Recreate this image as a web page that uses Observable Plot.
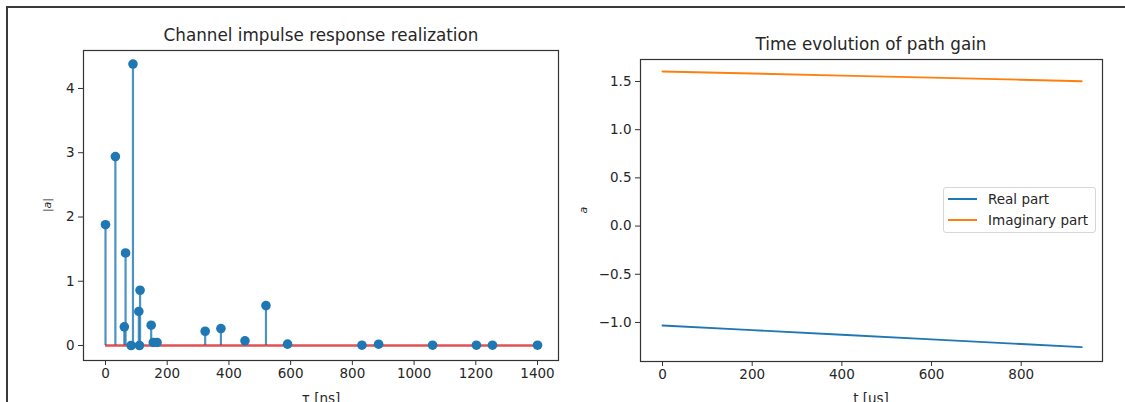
<!DOCTYPE html>
<html>
<head>
<meta charset="utf-8">
<script src="https://cdn.jsdelivr.net/npm/d3@7"></script>
<script src="https://cdn.jsdelivr.net/npm/@observablehq/plot@0.6"></script>
<style>
  html, body { margin: 0; padding: 0; background: #fff; }
  #wrap { position: relative; width: 1125px; height: 402px; overflow: hidden; background: #fff;
          font-family: "DejaVu Sans", sans-serif; color: #262626; }
  .frame { position: absolute; left: 6px; top: 6px; width: 1130px; height: 410px;
           border-top: 2px solid #3a3a3a; border-left: 2px solid #3a3a3a; }
  .plot { position: absolute; top: 0; }
  .title { position: absolute; font-size: 16.8px; transform: translate(-50%, -50%); white-space: nowrap; }
  .xlabel { position: absolute; font-size: 13.5px; transform: translateX(-50%); white-space: nowrap; }
  .ylabel { position: absolute; font-size: 11px; transform: translate(-50%, -50%) rotate(-90deg); white-space: nowrap; }
  .legend { position: absolute; left: 943px; top: 187px; width: 153px; height: 46px;
            border: 1px solid #d6d6d6; border-radius: 3px; background: rgba(255,255,255,0.8); box-sizing: border-box; }
  .lg-row { position: absolute; left: 4px; height: 16px; font-size: 13.5px; display: flex; align-items: center; }
  .lg-sw { width: 29px; height: 2px; margin-right: 11px; }
</style>
</head>
<body>
<div id="wrap">
  <div class="frame"></div>
  <div id="left" class="plot" style="left:0px"></div>
  <div id="right" class="plot" style="left:562px"></div>
  <div class="title" style="left:321px; top:35px">Channel impulse response realization</div>
  <div class="title" style="left:871px; top:44px">Time evolution of path gain</div>
  <div class="xlabel" style="left:321px; top:390px">τ [ns]</div>
  <div class="xlabel" style="left:871px; top:390px">t [us]</div>
  <div class="ylabel" style="left:47px; top:205px">|<i>a</i>|</div>
  <div class="ylabel" style="left:583px; top:210px"><i>a</i></div>
  <div class="legend">
    <div class="lg-row" style="top:3px"><div class="lg-sw" style="background:#1f77b4"></div>Real part</div>
    <div class="lg-row" style="top:24px"><div class="lg-sw" style="background:#ff7f0e"></div>Imaginary part</div>
  </div>
</div>
<script>
// ---- Left panel data: channel impulse response ----
const tau = [0, 32, 61, 65, 83, 89, 108, 110, 112, 148, 155, 167, 323, 374, 452, 520, 590, 831, 885, 1060, 1202, 1254, 1400];
const mag = [1.88, 2.94, 0.29, 1.44, 0.0, 4.38, 0.53, 0.0, 0.86, 0.316, 0.047, 0.047, 0.222, 0.264, 0.072, 0.621, 0.021, 0.005, 0.02, 0.005, 0.005, 0.005, 0.005];
const xTicksLeft = [0, 200, 400, 600, 800, 1000, 1200, 1400];
const yTicksLeft = [0, 1, 2, 3, 4];

// ---- Right panel data: time evolution of path gain ----
const tUs = [0, 200, 400, 600, 800, 935];
const realPart = [-1.031, -1.079, -1.128, -1.176, -1.224, -1.256];
const imagPart = [1.604, 1.583, 1.561, 1.540, 1.518, 1.503];
const xTicksRight = [0, 200, 400, 600, 800];
const yTicksRight = [-1.0, -0.5, 0.0, 0.5, 1.0, 1.5];

const C0 = "#1f77b4", C1 = "#ff7f0e", C3 = "#d62728";
const axisStyle = {fontFamily: "DejaVu Sans, sans-serif", fontSize: "13.5px", color: "#262626", background: "transparent", overflow: "visible"};

const stems = tau.map((t, i) => ({tau: t, mag: mag[i]}));
const fmtMinus = d => (d < 0 ? "\u2212" : "") + Math.abs(d).toFixed(1);

const left = Plot.plot({
  width: 562, height: 402,
  marginLeft: 83, marginRight: 4, marginTop: 50, marginBottom: 42,
  style: axisStyle,
  x: {domain: [-71.3, 1468], label: null},
  y: {domain: [-0.2335, 4.591], label: null},
  marks: [
    Plot.axisX({ticks: xTicksLeft, tickSize: 5, tickPadding: 3, tickFormat: d => String(d), label: null, stroke: "#333"}),
    Plot.axisY({ticks: yTicksLeft, tickSize: 5, tickPadding: 4, tickFormat: d => String(d), label: null, stroke: "#333"}),
    Plot.ruleX(stems, {x: "tau", y1: 0, y2: "mag", stroke: C0, strokeWidth: 2.2, strokeOpacity: 0.8}),
    Plot.ruleY([0], {x1: d3.min(tau), x2: d3.max(tau), stroke: C3, strokeWidth: 2.4, strokeOpacity: 0.8}),
    Plot.dot(stems, {x: "tau", y: "mag", r: 4.8, fill: C0, stroke: "none"}),
    Plot.frame({stroke: "#333", strokeWidth: 1.2})
  ]
});
document.getElementById("left").append(left);

const series = [
  ...tUs.map((t, i) => ({t, v: realPart[i], s: "Real part"})),
  ...tUs.map((t, i) => ({t, v: imagPart[i], s: "Imaginary part"}))
];

const right = Plot.plot({
  width: 563, height: 402,
  marginLeft: 78, marginRight: 23, marginTop: 59, marginBottom: 41,
  style: axisStyle,
  x: {domain: [-49.1, 981.3], label: null},
  y: {domain: [-1.405, 1.728], label: null},
  color: {domain: ["Real part", "Imaginary part"], range: [C0, C1]},
  marks: [
    Plot.axisX({ticks: xTicksRight, tickSize: 5, tickPadding: 3, tickFormat: d => String(d), label: null, stroke: "#333"}),
    Plot.axisY({ticks: yTicksRight, tickSize: 5, tickPadding: 4, tickFormat: fmtMinus, label: null, stroke: "#333"}),
    Plot.line(series, {x: "t", y: "v", z: "s", stroke: "s", strokeWidth: 1.9}),
    Plot.frame({stroke: "#333", strokeWidth: 1.2})
  ]
});
document.getElementById("right").append(right);
</script>
</body>
</html>
